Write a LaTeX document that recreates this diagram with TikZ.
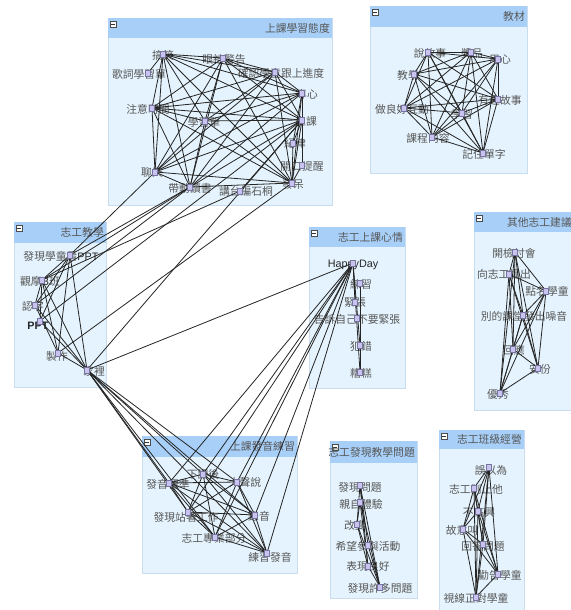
\documentclass[tikz,border=0pt]{standalone}
\usepackage{fontspec}
\setmainfont{Noto Sans CJK TC}
\newfontfamily\latinfont{Liberation Sans}
\usetikzlibrary{calc}

\pgfdeclarelayer{panels}
\pgfdeclarelayer{texts}
\pgfdeclarelayer{links}
\pgfsetlayers{panels,texts,links,main}

\definecolor{headblue}{HTML}{A7CFF8}
\definecolor{bodyblue}{HTML}{E4F3FD}
\definecolor{panelline}{HTML}{C9DDEE}
\definecolor{labelgray}{HTML}{575757}
\definecolor{linkgray}{HTML}{252525}
\definecolor{markfill}{HTML}{C9C4EF}
\definecolor{markline}{HTML}{77759F}

\tikzset{
  marker/.style={draw=markline, fill=markfill, line width=0.4pt,
    minimum width=5pt, minimum height=6pt, inner sep=0pt},
  term/.style={text=labelgray, font=\fontsize{10.8}{11}\selectfont, inner sep=0pt},
  heading/.style={text=labelgray, font=\fontsize{10.8}{11}\selectfont,
    inner sep=0pt, anchor=east},
  link/.style={draw=linkgray, line width=0.8pt},
  foldbox/.style={draw=black!70, fill=white, line width=0.4pt,
    minimum size=6pt, inner sep=0pt},
}

% Latin words inside the labels are set darker, in a sans face
\newcommand{\romanpart}[1]{{\latinfont\color{black!85}#1}}

% concept: name, marker position, label position, label text
\newcommand{\concept}[4]{%
  \node[marker] (#1) at (#2) {};
  \begin{pgfonlayer}{texts}\node[term] at (#3) {#4};\end{pgfonlayer}}

% links from one concept to a list of others
\newcommand{\joins}[2]{%
  \begin{pgfonlayer}{links}
    \foreach \tgt in {#2} {\draw[link] (#1.center) -- (\tgt.center);}
  \end{pgfonlayer}}

% panel: left, top, right, bottom, bottom of the title band, title
\newcommand{\panel}[6]{%
  \begin{pgfonlayer}{panels}
    \fill[bodyblue] (#1,#2) rectangle (#3,#4);
    \draw[panelline, line width=0.6pt] (#1,#2) rectangle (#3,#4);
    \fill[headblue] (#1,#2) rectangle (#3,#5);
    \node[foldbox] (fold) at ({#1+5},{#2+6}) {};
    \draw[black!80, line width=0.6pt] ($(fold.center)+(-1.8,0)$) -- ($(fold.center)+(1.8,0)$);
    \node[heading] at ({#3-2},{(#2+#5)/2}) {#6};
  \end{pgfonlayer}}

\begin{document}
\begin{tikzpicture}[x=1pt, y=-1pt]
\useasboundingbox (0,0) rectangle (570,610);
\begin{pgfonlayer}{panels}
  \fill[white] (0,0) rectangle (570,610);
\end{pgfonlayer}

% ---------- panels ----------
\panel{108}{18}{332}{205}{38}{上課學習態度}
\panel{370}{6}{527}{173}{27}{教材}
\panel{14}{222}{106}{387}{243}{志工教學}
\panel{309}{227}{405}{388}{247}{志工上課心情}
\panel{474}{212}{574}{410}{232}{其他志工建議}
\panel{142}{436}{297}{573}{457}{上課發音練習}
\panel{330}{441}{417}{598}{463}{志工發現教學問題}
\panel{439}{430}{524}{614}{449}{志工班級經營}

% ---------- 上課學習態度 ----------
\concept{a1}{163,54}{163,55}{搞笑}
\concept{a2}{148,73}{139,74}{歌詞學習單}
\concept{a3}{223,58}{224,59}{眼神警告}
\concept{a4}{275,72}{281,73}{確認學童跟上進度}
\concept{a5}{302,93}{307,94}{專心}
\concept{a6}{152,108}{148,109}{注意時間}
\concept{a7}{205,121}{204,122}{學習單}
\concept{a8}{302,120}{306,121}{上課}
\concept{a9}{293,143}{295,143}{紀律}
\concept{a10}{302,165}{302,166}{開口提醒}
\concept{a11}{155,172}{152,172}{聊天}
\concept{a12}{190,187}{190,188}{帶動讀書}
\concept{a13}{240,191}{246,191}{講台編石桐}
\concept{a14}{292,183}{293,184}{發呆}

% ---------- 教材 ----------
\concept{b1}{428,52}{430,53}{說故事}
\concept{b2}{471,52}{472,53}{獎品}
\concept{b3}{498,59}{500,60}{用心}
\concept{b4}{414,74}{408,75}{教學}
\concept{b5}{498,99}{500,100}{有趣故事}
\concept{b6}{404,108}{402,109}{做良好互動}
\concept{b7}{462,113}{462,114}{學習}
\concept{b8}{432,137}{428,138}{課程內容}
\concept{b9}{483,153}{484,154}{記住單字}

% ---------- 志工教學 ----------
\concept{c1}{70,255}{61,256}{發現學童看\romanpart{PPT}}
\concept{c2}{42,280}{40,281}{觀摩\romanpart{B}班}
\concept{c3}{35,305}{33,306}{認字}
\concept{c4}{40,321}{38,326}{\romanpart{\bfseries PPT}}
\concept{c5}{58,353}{57,356}{製作}
\concept{c6}{87,370}{94,371}{家裡}

% ---------- 志工上課心情 ----------
\concept{d1}{353,263}{353,265}{\romanpart{HappyDay}}
\concept{d2}{360,283}{361,284}{練習}
\concept{d3}{355,302}{355,303}{緊張}
\concept{d4}{357,318}{357,319}{告訴自己不要緊張}
\concept{d5}{360,345}{361,346}{犯錯}
\concept{d6}{360,372}{361,373}{糟糕}

% ---------- 其他志工建議 ----------
\concept{e1}{515,252}{514,253}{開檢討會}
\concept{e2}{509,274}{504,274}{向志工提出}
\concept{e3}{546,291}{547,291}{點名學童}
\concept{e4}{523,315}{524,316}{別的課堂發出噪音}
\concept{e5}{513,349}{514,350}{回應}
\concept{e6}{538,368}{540,369}{安份}
\concept{e7}{500,393}{498,394}{優秀}

% ---------- 上課發音練習 ----------
\concept{f1}{169,483}{168,484}{發音標準}
\concept{f2}{203,474}{203,474}{下課後}
\concept{f3}{237,482}{245,482}{大聲說}
\concept{f4}{188,512}{186,517}{發現站著工作}
\concept{f5}{255,515}{259,516}{錄音}
\concept{f6}{215,537}{214,538}{志工專業部分}
\concept{f7}{267,553}{270,557}{練習發音}

% ---------- 志工發現教學問題 ----------
\concept{g1}{360,485}{360,487}{發現問題}
\concept{g2}{360,502}{361,504}{親自體驗}
\concept{g3}{357,524}{355,525}{改變}
\concept{g4}{368,545}{368,546}{希望參與活動}
\concept{g5}{368,566}{368,566}{表現良好}
\concept{g6}{380,587}{380,588}{發現許多問題}

% ---------- 志工班級經營 ----------
\concept{h1}{489,467}{491,470}{誤以為}
\concept{h2}{474,488}{476,489}{志工制止他}
\concept{h3}{478,511}{479,512}{不高興}
\concept{h4}{463,529}{462,530}{故意叫}
\concept{h5}{483,544}{483,546}{回答問題}
\concept{h6}{498,574}{500,575}{勸告學童}
\concept{h7}{476,597}{476,598}{視線正對學童}

% ---------- links inside 上課學習態度 ----------
\joins{a1}{a2,a3,a4,a5,a6,a7,a8,a11,a12,a14}
\joins{a3}{a4,a5,a6,a7,a8,a11,a12,a14}
\joins{a4}{a5,a6,a7,a8,a11,a12,a14}
\joins{a5}{a6,a7,a8,a11,a12,a14,a9,a10}
\joins{a6}{a7,a8,a11,a12,a14}
\joins{a7}{a8,a11,a12,a14}
\joins{a8}{a11,a12,a14,a9,a10,a13}
\joins{a11}{a12,a14}
\joins{a12}{a14}
\joins{a9}{a14}
\joins{a10}{a14}

% ---------- links inside 教材 ----------
\joins{b1}{b2,b3,b4,b5,b6,b7,b8,b9}
\joins{b2}{b3,b4,b5,b6,b7,b8,b9}
\joins{b3}{b4,b5,b6,b7,b8,b9}
\joins{b4}{b5,b6,b7,b8,b9}
\joins{b5}{b6,b7,b8,b9}
\joins{b6}{b7,b8,b9}
\joins{b7}{b8,b9}
\joins{b8}{b9}

% ---------- links inside 志工教學 ----------
\joins{c1}{c2,c3,c4,c5,c6}
\joins{c2}{c3,c4,c5,c6}
\joins{c3}{c5,c6}
\joins{c4}{c6}
\joins{c5}{c6}

% ---------- links inside 志工上課心情 ----------
\joins{d1}{d3,d5,d6}
\joins{d2}{d6}

% ---------- links inside 其他志工建議 ----------
\joins{e1}{e2,e3,e4,e5,e6,e7}
\joins{e2}{e3,e4,e5,e6,e7}
\joins{e3}{e4,e5,e6,e7}
\joins{e4}{e5,e6,e7}
\joins{e5}{e6,e7}
\joins{e6}{e7}

% ---------- links inside 上課發音練習 ----------
\joins{f1}{f2,f3,f4,f5,f6,f7}
\joins{f2}{f3,f4,f5,f6,f7}
\joins{f3}{f4,f5,f6,f7}
\joins{f4}{f5,f6,f7}
\joins{f5}{f6,f7}
\joins{f6}{f7}

% ---------- links inside 志工發現教學問題 ----------
\joins{g1}{g3,g4,g5,g6}
\joins{g2}{g3,g5,g6}
\joins{g3}{g5,g6}
\joins{g4}{g6}
\joins{g5}{g6}

% ---------- links inside 志工班級經營 ----------
\joins{h1}{h2,h3,h4,h5,h6,h7}
\joins{h2}{h3,h4,h5,h6,h7}
\joins{h3}{h4,h5,h6,h7}
\joins{h4}{h5,h6,h7}
\joins{h5}{h6,h7}
\joins{h6}{h7}

% ---------- links between panels ----------
\joins{a11}{c1}
\joins{a12}{c1,c2,c3}
\joins{a13}{c2}
\joins{a8}{c4,c6}
\joins{a14}{c5}
\joins{c6}{f1,f2,f3,f4,f5,f6,f7,d1}
\joins{d1}{f1,f2,f3,f4,f5,f6,f7}
\end{tikzpicture}
\end{document}
